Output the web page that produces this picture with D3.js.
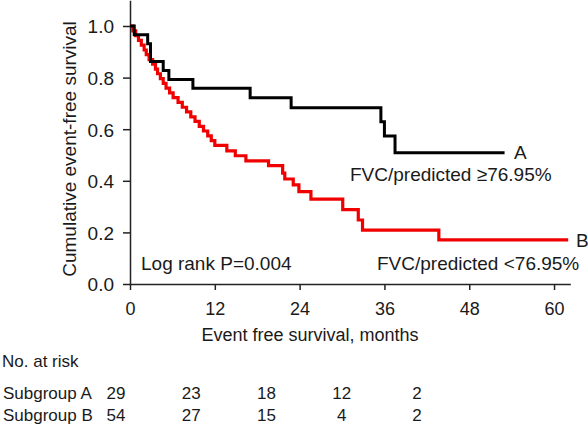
<!DOCTYPE html>
<html>
<head>
<meta charset="utf-8">
<script src="https://cdn.jsdelivr.net/npm/d3@7"></script>
<style>
  html, body { margin: 0; padding: 0; background: #fff; }
  svg { display: block; }
  text { font-family: "Liberation Sans", Arial, Helvetica, sans-serif; fill: #1a1a1a; }
</style>
</head>
<body>
<svg id="chart" width="588" height="432"></svg>
<script>
// ---- data ----
const timesA = [0, 0.6, 2.5, 2.9, 4.7, 5.5, 8.9, 17.0, 22.8, 35.5, 36.0, 37.5, 53.0];
const survA  = [1.0, 0.966, 0.931, 0.862, 0.828, 0.793, 0.759, 0.722, 0.683, 0.629, 0.574, 0.509, 0.509];

const timesB = [0, 0.4, 0.8, 1.2, 1.6, 2.0, 2.3, 2.7, 3.2, 3.6, 3.9, 4.3, 4.7, 5.1, 5.6, 6.1, 6.8, 7.4, 8.0, 8.6, 9.2, 9.8, 10.4, 11.0, 11.5, 12.0, 13.7, 14.9, 16.4, 19.6, 21.6, 21.9, 23.1, 23.9, 25.6, 30.1, 32.3, 32.9, 43.7, 62.0];
const survB  = [1.0, 0.981, 0.963, 0.944, 0.926, 0.907, 0.889, 0.870, 0.852, 0.833, 0.815, 0.796, 0.778, 0.759, 0.741, 0.722, 0.704, 0.685, 0.667, 0.648, 0.630, 0.611, 0.593, 0.574, 0.556, 0.537, 0.516, 0.497, 0.477, 0.459, 0.430, 0.407, 0.384, 0.358, 0.329, 0.288, 0.248, 0.209, 0.171, 0.171];

const xTicks = [0, 12, 24, 36, 48, 60];
const yTicks = [0, 0.2, 0.4, 0.6, 0.8, 1.0];

const riskGroups = ["Subgroup A", "Subgroup B"];
const riskA = [29, 23, 18, 12, 2];
const riskB = [54, 27, 15, 4, 2];

const labelA = "A";
const labelB = "B";
const descA = "FVC/predicted \u226576.95%";
const descB = "FVC/predicted <76.95%";
const pText = "Log rank P=0.004";
const xTitle = "Event free survival, months";
const yTitle = "Cumulative event-free survival";
const riskTitle = "No. at risk";

// ---- layout ----
const svg = d3.select("#chart");
const x = d3.scaleLinear().domain([0, 62.3]).range([130, 570.3]);
const y = d3.scaleLinear().domain([0, 1.1]).range([284, 0.2]);
const axisColor = "#222";

// axes
const gx = svg.append("g").attr("transform", `translate(0,${y(0)})`)
  .call(d3.axisBottom(x).tickValues(xTicks).tickFormat(d3.format("d")).tickSize(6).tickSizeOuter(0));
gx.select(".domain").attr("stroke", axisColor).attr("stroke-width", 1.5);
gx.selectAll(".tick line").attr("stroke", axisColor).attr("stroke-width", 1.5);
gx.selectAll(".tick text").attr("font-size", 18).attr("dy", null).attr("y", 31)
  .attr("fill", "#1a1a1a").attr("font-family", "Liberation Sans, Arial, sans-serif");

const gy = svg.append("g").attr("transform", `translate(${x(0)},0)`)
  .call(d3.axisLeft(y).tickValues(yTicks).tickFormat(d3.format(".1f")).tickSize(7).tickSizeOuter(0));
gy.select(".domain").attr("stroke", axisColor).attr("stroke-width", 1.5);
gy.selectAll(".tick line").attr("stroke", axisColor).attr("stroke-width", 1.5);
gy.selectAll(".tick text").attr("font-size", 19).attr("x", -16).attr("dy", "0.36em")
  .attr("fill", "#1a1a1a").attr("font-family", "Liberation Sans, Arial, sans-serif");

// curves
const line = d3.line().x(d => x(d[0])).y(d => y(d[1])).curve(d3.curveStepAfter);
svg.append("path").datum(timesB.map((t, i) => [t, survB[i]]))
  .attr("d", line).attr("fill", "none").attr("stroke", "#f00000").attr("stroke-width", 3.2);
svg.append("path").datum(timesA.map((t, i) => [t, survA[i]]))
  .attr("d", line).attr("fill", "none").attr("stroke", "#000").attr("stroke-width", 3);

// annotations
svg.append("text").attr("x", 514).attr("y", 159).attr("font-size", 19).text(labelA);
svg.append("text").attr("x", 350).attr("y", 181).attr("font-size", 19).text(descA);
svg.append("text").attr("x", 576).attr("y", 247).attr("font-size", 19).text(labelB);
svg.append("text").attr("x", 377).attr("y", 270).attr("font-size", 19).text(descB);
svg.append("text").attr("x", 141).attr("y", 270).attr("font-size", 19).text(pText);

// axis titles
svg.append("text").attr("x", 310).attr("y", 341).attr("text-anchor", "middle").attr("font-size", 18).text(xTitle);
svg.append("text").attr("transform", `translate(76,149) rotate(-90)`).attr("text-anchor", "middle").attr("font-size", 19).text(yTitle);

// risk table
svg.append("text").attr("x", 2).attr("y", 367).attr("font-size", 17).text(riskTitle);
const col = d3.scaleLinear().domain([0, 4]).range([116, 417]);
const rowY = d3.scaleLinear().domain([0, 1]).range([399, 421]);
[riskA, riskB].forEach((vals, r) => {
  svg.append("text").attr("x", 3).attr("y", rowY(r)).attr("font-size", 17).text(riskGroups[r]);
  svg.selectAll(null).data(vals).enter().append("text")
    .attr("x", (d, i) => col(i)).attr("y", rowY(r)).attr("text-anchor", "middle")
    .attr("font-size", 17).text(d => d);
});
</script>
</body>
</html>
